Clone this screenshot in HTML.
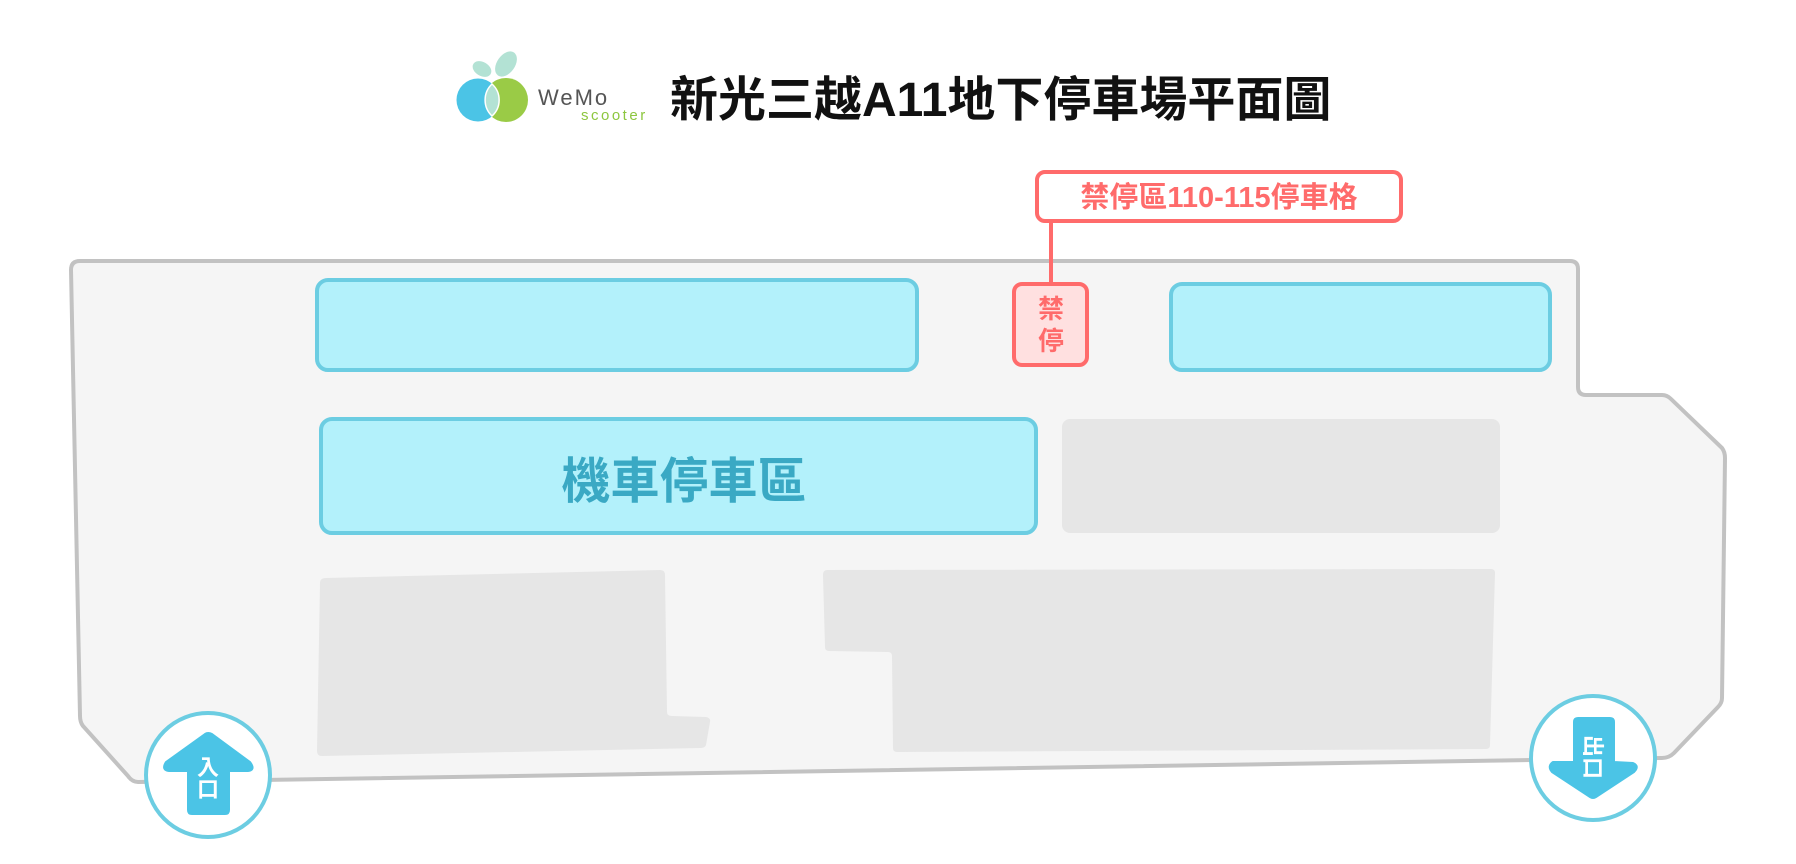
<!DOCTYPE html>
<html><head><meta charset="utf-8"><style>
html,body{margin:0;padding:0;background:#fff;width:1796px;height:864px;overflow:hidden}
svg text{font-family:"Liberation Sans","Noto Sans CJK TC",sans-serif;font-weight:bold}
</style></head><body>
<svg width="1796" height="864" viewBox="0 0 1796 864" xmlns="http://www.w3.org/2000/svg">
<!-- logo -->
<ellipse cx="506" cy="64" rx="9" ry="14" fill="#b3e2d4" transform="rotate(35 506 64)"/>
<ellipse cx="482" cy="69" rx="10" ry="7" fill="#b3e2d4" transform="rotate(30 482 69)"/>
<circle cx="506" cy="100" r="22" fill="#9acb46"/>
<circle cx="478" cy="100" r="21.5" fill="#4bc4e6"/>
<path d="M492 84 A21.5 21.5 0 0 1 492 116 A22 22 0 0 1 492 84Z" fill="#b3e2d4" stroke="#fff" stroke-width="1.5"/>
<text x="538" y="105" font-size="22" fill="#555" style="font-weight:normal" letter-spacing="2">WeMo</text>
<text x="581" y="120" font-size="15" fill="#8dc63f" style="font-weight:normal" letter-spacing="2.5">scooter</text>
<text x="670" y="116" font-size="48" fill="#111">新光三越A11地下停車場平面圖</text>
<!-- outline -->
<path d="M80 261 L1570 261 Q1578 261 1578 269 L1578 387 Q1578 395 1586 395 L1662 395 Q1667 395 1671 399 L1722 448 Q1725 452 1725 458 L1722 698 Q1722 703 1718 707 L1674 753 Q1669 758 1662 758 L138 782 Q132 782 128 776 L83 726 Q80 722 80 716 L71 270 Q71 261 80 261Z" fill="#f5f5f5" stroke="#c2c2c2" stroke-width="4"/>
<!-- blue zones -->
<rect x="317" y="280" width="600" height="90" rx="11" fill="#b3f1fb" stroke="#6ccde2" stroke-width="4"/>
<rect x="1171" y="284" width="379" height="86" rx="11" fill="#b3f1fb" stroke="#6ccde2" stroke-width="4"/>
<rect x="321" y="419" width="715" height="114" rx="11" fill="#b3f1fb" stroke="#6ccde2" stroke-width="4"/>
<text x="684" y="498" font-size="49" fill="#3aa9c4" text-anchor="middle">機車停車區</text>
<!-- gray blocks -->
<rect x="1062" y="419" width="438" height="114" rx="8" fill="#e6e6e6"/>
<path d="M326 578 L660 570 Q665 570 665 575 L667 712 Q667 716 672 716 L706 717 Q711 718 710 722 L706 745 Q705 748 700 748 L322 756 Q317 756 317 751 L320 583 Q320 578 326 578Z" fill="#e6e6e6"/>
<path d="M827 570 L1491 569 Q1495 569 1495 573 L1490 745 Q1490 749 1486 749 L897 752 Q893 752 893 748 L892 656 Q892 652 888 652 L829 651 Q825 651 825 647 L823 575 Q823 570 827 570Z" fill="#e6e6e6"/>
<!-- no parking -->
<line x1="1051" y1="222" x2="1051" y2="284" stroke="#ff6b6b" stroke-width="4"/>
<rect x="1037" y="172" width="364" height="49" rx="8" fill="#fff" stroke="#ff6b6b" stroke-width="4"/>
<text x="1219" y="207" font-size="29" fill="#ff6b6b" text-anchor="middle">禁停區110-115停車格</text>
<rect x="1014" y="284" width="73" height="81" rx="8" fill="#ffe0e0" stroke="#ff6b6b" stroke-width="4"/>
<text x="1051" y="318" font-size="26" fill="#ff6b6b" text-anchor="middle">禁</text>
<text x="1051" y="350" font-size="26" fill="#ff6b6b" text-anchor="middle">停</text>
<!-- entrance -->
<circle cx="208" cy="775" r="62" fill="#fff" stroke="#6ccde2" stroke-width="4"/>
<path d="M205 734 Q208 732 212 734 L250 762 Q256 770 248 771 L229 771 L229 810 Q229 814 225 814 L192 814 Q188 814 188 810 L188 771 L169 771 Q161 770 166 762Z" fill="#4bc4e6" stroke="#4bc4e6" stroke-width="2" stroke-linejoin="round"/>
<text x="208" y="775" font-size="22" fill="#fff" text-anchor="middle">入</text>
<text x="208" y="797" font-size="22" fill="#fff" text-anchor="middle">口</text>
<!-- exit -->
<circle cx="1593" cy="758" r="62" fill="#fff" stroke="#6ccde2" stroke-width="4"/>
<path d="M1578 718 L1610 718 Q1614 718 1614 722 L1614 762 L1633 763 Q1640 766 1634 772 L1596 797 Q1593 799 1590 797 L1552 772 Q1547 766 1553 762 L1574 762 L1574 722 Q1574 718 1578 718Z" fill="#4bc4e6" stroke="#4bc4e6" stroke-width="2" stroke-linejoin="round"/>
<text x="0" y="0" font-size="22" fill="#fff" text-anchor="middle" transform="translate(1585 757) rotate(90)">出口</text>
</svg>
</body></html>
